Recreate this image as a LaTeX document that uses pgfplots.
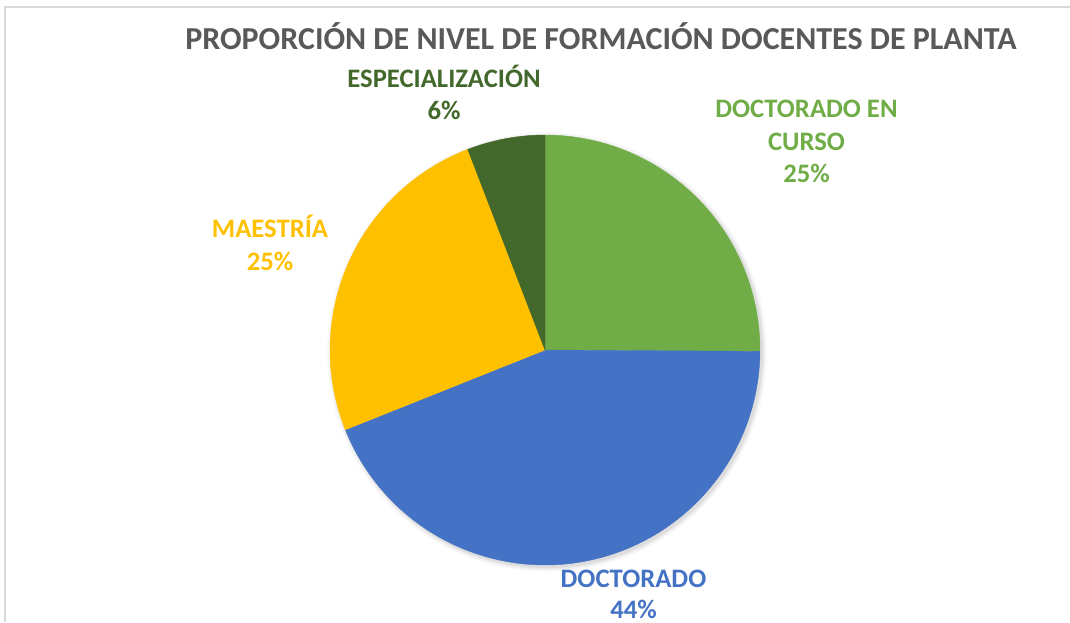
\documentclass[border=0pt]{standalone}
\usepackage{pgfplots}
\pgfplotsset{compat=1.18}
\usepackage{pgfplotstable}
\usepackage{fontspec}
\setmainfont{Carlito}
\definecolor{cGreen}{HTML}{70AD47}
\definecolor{cBlue}{HTML}{4472C4}
\definecolor{cYellow}{HTML}{FFC000}
\definecolor{cDark}{HTML}{43682B}
\definecolor{cTitle}{HTML}{595959}
\definecolor{cFrame}{HTML}{D9D9D9}
% values in percent (clockwise from the top)
\pgfplotstableread{
cat val
DoctoradoEnCurso 25.10
Doctorado 43.85
Maestria 25.20
Especializacion 5.85
}\pietable
\pgfplotstablegetelem{0}{val}\of\pietable \let\vA\pgfplotsretval
\pgfplotstablegetelem{1}{val}\of\pietable \let\vB\pgfplotsretval
\pgfplotstablegetelem{2}{val}\of\pietable \let\vC\pgfplotsretval
\pgfplotstablegetelem{3}{val}\of\pietable \let\vD\pgfplotsretval
\pgfmathsetmacro\aA{90}
\pgfmathsetmacro\aB{\aA-3.6*\vA}
\pgfmathsetmacro\aC{\aB-3.6*\vB}
\pgfmathsetmacro\aD{\aC-3.6*\vC}
\pgfmathsetmacro\aE{\aD-3.6*\vD}
\begin{document}
\begin{tikzpicture}
\begin{scope}[x=0.75pt,y=0.75pt]
\path[use as bounding box] (0,0) rectangle (1070,622);
\draw[cFrame, line width=1.2pt] (5,0) -- (5,615) -- (1070,615);
% soft shadow
\foreach \r/\o in {220/0.02,218.5/0.03,217/0.04,216/0.05}{
  \fill[black, opacity=\o] (547,270) circle (\r);
}
\end{scope}
\begin{axis}[at={(408.75pt,204pt)}, anchor=center, width=322.5pt, height=322.5pt,
  scale only axis, xmin=-1, xmax=1, ymin=-1, ymax=1, hide axis, clip=false]
\addplot[fill=cGreen, draw=cGreen, line width=0.3pt, domain=\aB:\aA, samples=80, variable=\t]
  ({cos(t)},{sin(t)}) -- (axis cs:0,0) -- cycle;
\addplot[fill=cBlue, draw=cBlue, line width=0.3pt, domain=\aC:\aB, samples=120, variable=\t]
  ({cos(t)},{sin(t)}) -- (axis cs:0,0) -- cycle;
\addplot[fill=cYellow, draw=cYellow, line width=0.3pt, domain=\aD:\aC, samples=80, variable=\t]
  ({cos(t)},{sin(t)}) -- (axis cs:0,0) -- cycle;
\addplot[fill=cDark, draw=cDark, line width=0.3pt, domain=\aE:\aD, samples=30, variable=\t]
  ({cos(t)},{sin(t)}) -- (axis cs:0,0) -- cycle;
\end{axis}
\begin{scope}[x=0.75pt,y=0.75pt]
% title
\node[anchor=base, text=cTitle, font=\fontsize{24}{28}\selectfont\bfseries, inner sep=0pt] at (601,572)
  {PROPORCIÓN DE NIVEL DE FORMACIÓN DOCENTES DE PLANTA};
% labels
\tikzset{lab/.style={anchor=base, inner sep=0pt, font=\fontsize{20}{24}\selectfont\bfseries}}
\node[lab, text=cDark] at (444,534) {ESPECIALIZACIÓN};
\node[lab, text=cDark] at (444,502) {6\%};
\node[lab, text=cGreen] at (806.5,504) {DOCTORADO EN};
\node[lab, text=cGreen] at (806.5,471) {CURSO};
\node[lab, text=cGreen] at (806.5,439) {25\%};
\node[lab, text=cYellow] at (270,384) {MAESTRÍA};
\node[lab, text=cYellow] at (270,351) {25\%};
\node[lab, text=cBlue] at (633.5,35) {DOCTORADO};
\node[lab, text=cBlue] at (633.5,4) {44\%};
\end{scope}
\end{tikzpicture}
\end{document}
